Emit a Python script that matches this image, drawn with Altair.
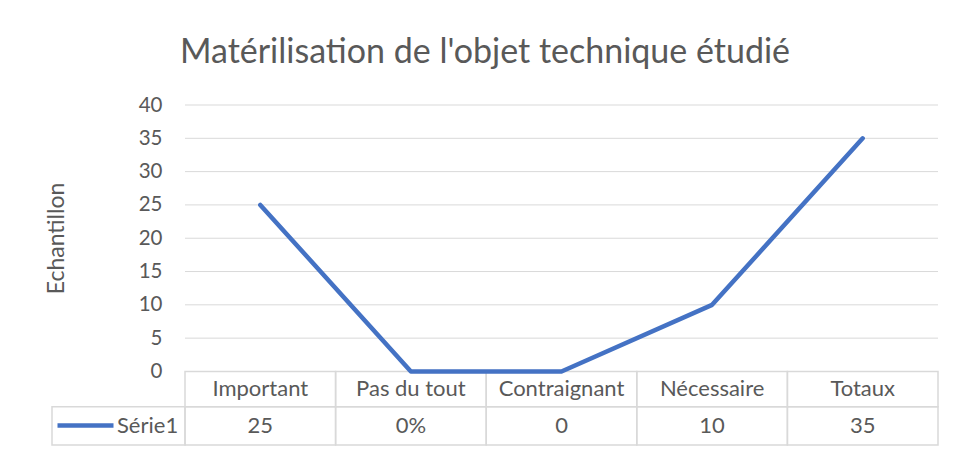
import altair as alt
import pandas as pd

# ---- data ----
CATEGORIES = ["Important", "Pas du tout", "Contraignant", "Nécessaire", "Totaux"]
VALUES = [25, 0, 0, 10, 35]
TABLE_LABELS = ["25", "0%", "0", "10", "35"]
SERIES = "Série1"
Y_TICKS = [0, 5, 10, 15, 20, 25, 30, 35, 40]
TITLE = "Matérilisation de l'objet technique étudié"
Y_TITLE = "Echantillon"

# ---- layout constants (in scale units) ----
LEG_W = 133 / 150.6        # width of the legend column of the data table
ROW_SPLIT = -5.3           # line between header row and value row
TABLE_BOTTOM = -11.04      # bottom of the data table
N = len(CATEGORIES)

TEXT = "#595959"
GRID = "#d9d9d9"
BLUE = "#4472C4"
FONT = "Lato"

line_df = pd.DataFrame({
    "x": [i + 0.5 for i in range(N)],
    "y": VALUES,
    "series": [SERIES] * N,
})
grid_df = pd.DataFrame({"y": Y_TICKS[1:], "x": [0] * (len(Y_TICKS) - 1), "x2": [N] * (len(Y_TICKS) - 1)})

cells = []
for i in range(N):
    cells.append({"x": i, "x2": i + 1, "y": 0, "y2": ROW_SPLIT})
    cells.append({"x": i, "x2": i + 1, "y": ROW_SPLIT, "y2": TABLE_BOTTOM})
cells.append({"x": -LEG_W, "x2": 0, "y": ROW_SPLIT, "y2": TABLE_BOTTOM})
cells_df = pd.DataFrame(cells)

texts = []
for i, c in enumerate(CATEGORIES):
    texts.append({"x": i + 0.5, "y": ROW_SPLIT / 2, "t": c})
    texts.append({"x": i + 0.5, "y": (ROW_SPLIT + TABLE_BOTTOM) / 2, "t": TABLE_LABELS[i]})
text_df = pd.DataFrame(texts)

xs = alt.Scale(domain=[-LEG_W, N], nice=False, zero=False)
ys = alt.Scale(domain=[TABLE_BOTTOM, 40], nice=False, zero=False)
y_axis = alt.Axis(
    values=Y_TICKS, title=Y_TITLE, grid=False, domain=False, ticks=False,
    offset=-133, labelPadding=23, labelFontSize=20.5, labelColor=TEXT, labelFont=FONT,
    titleFontSize=23, titleColor=TEXT, titleFont=FONT, titleFontWeight="normal",
    titleX=-129, titleY=133, titleAlign="center", titleBaseline="middle",
)

grid = alt.Chart(grid_df).mark_rule(color=GRID, strokeWidth=1).encode(
    x=alt.X("x:Q", scale=xs, axis=None),
    x2="x2:Q",
    y=alt.Y("y:Q", scale=ys, axis=y_axis),
)

cells_layer = alt.Chart(cells_df).mark_rect(fillOpacity=0, stroke=GRID, strokeWidth=1.5).encode(
    x=alt.X("x:Q", scale=xs, axis=None),
    x2="x2:Q",
    y=alt.Y("y:Q", scale=ys, axis=y_axis),
    y2="y2:Q",
)

text_layer = alt.Chart(text_df).mark_text(font=FONT, fontSize=22, color=TEXT, baseline="middle").encode(
    x=alt.X("x:Q", scale=xs, axis=None),
    y=alt.Y("y:Q", scale=ys, axis=y_axis),
    text="t:N",
)

line = alt.Chart(line_df).mark_line(strokeWidth=4.5, strokeJoin="round", strokeCap="round").encode(
    x=alt.X("x:Q", scale=xs, axis=None),
    y=alt.Y("y:Q", scale=ys, axis=y_axis),
    color=alt.Color("series:N", scale=alt.Scale(range=[BLUE]), legend=alt.Legend(
        title=None, orient="none", legendX=3, legendY=290,
        symbolType="stroke", symbolSize=3136, symbolStrokeWidth=4.5,
        labelFontSize=22, labelColor=TEXT, labelFont=FONT, labelOffset=1,
    )),
)

chart = alt.layer(grid, cells_layer, text_layer, line).properties(
    width=886, height=340,
    autosize="none",
    padding={"left": 44, "top": 97, "right": 8, "bottom": 4},
    title=alt.TitleParams(
        TITLE, fontSize=34, font=FONT, color=TEXT, fontWeight="normal",
        anchor="middle", frame="group", dx=-10, offset=25,
    ),
).configure_view(stroke=None)

chart.save("out.html", embed_options={"renderer": "svg", "actions": False})
